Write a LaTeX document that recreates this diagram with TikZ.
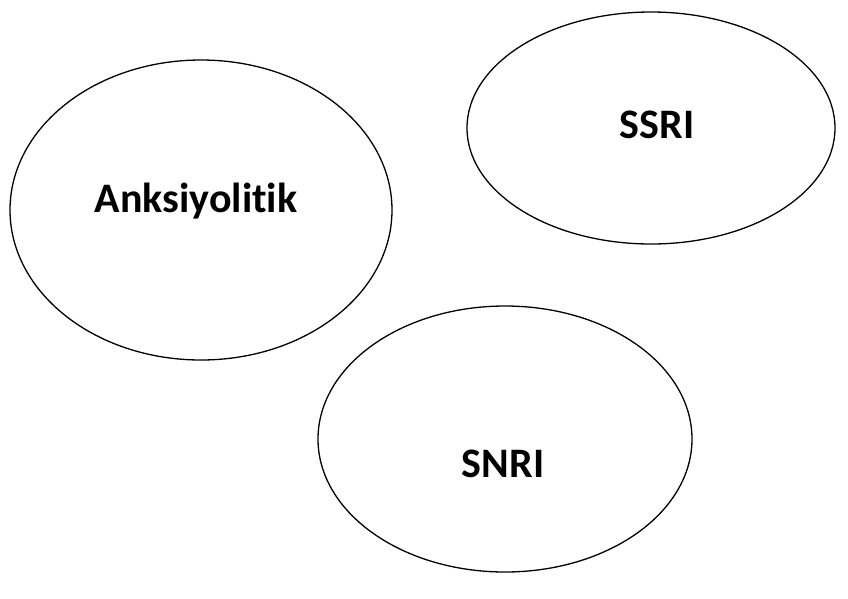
\documentclass[tikz,border=0pt]{standalone}
\usepackage{fontspec}
\setmainfont[Ligatures={NoCommon}]{Carlito}
\begin{document}
\begin{tikzpicture}[x=1pt,y=-1pt,
  oval/.style={draw=black,line width=1.3pt},
  lbl/.style={font=\fontsize{42}{50}\selectfont\bfseries,anchor=base,inner sep=0pt}]
\useasboundingbox (0,0) rectangle (848,598);
\draw[oval] (201,210) ellipse [x radius=191,y radius=150];
\draw[oval] (651,128) ellipse [x radius=184,y radius=116];
\draw[oval] (505,439) ellipse [x radius=187,y radius=133];
\node[lbl] (a) at (196,212) {Anksiyolitik};
\node[lbl] (b) at (657,138) {SSRI};
\node[lbl] (c) at (503,477) {SNRI};
\end{tikzpicture}
\end{document}
